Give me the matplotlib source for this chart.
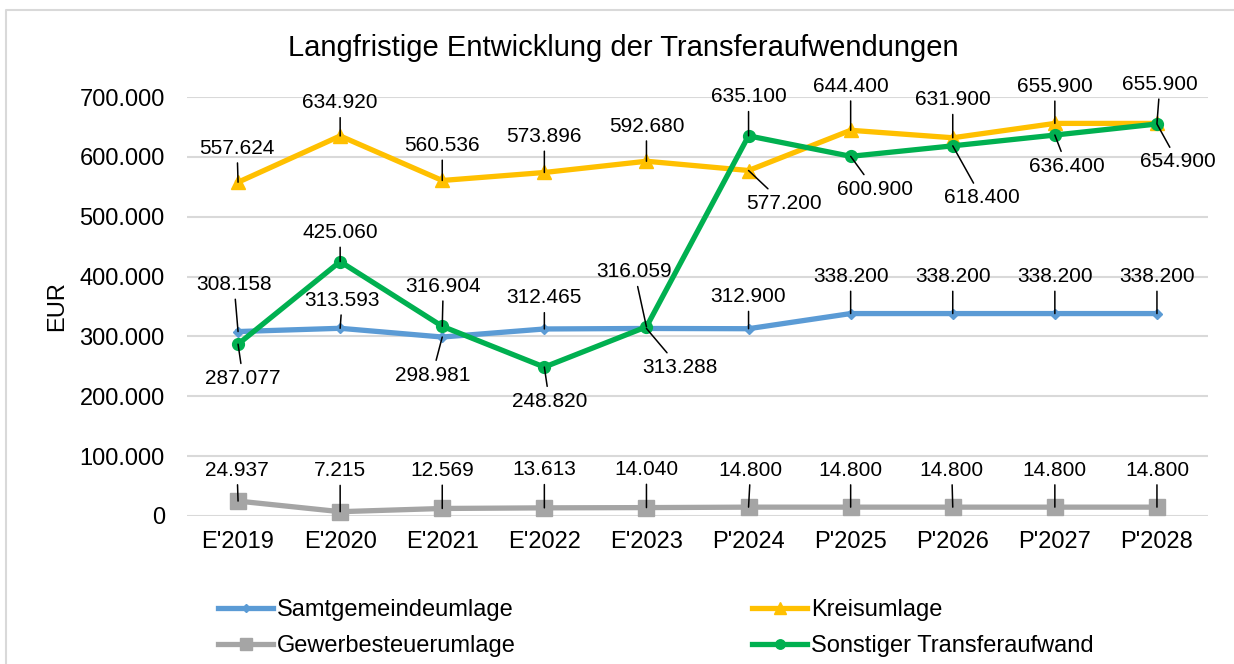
import matplotlib
matplotlib.use("Agg")
import matplotlib.pyplot as plt
from matplotlib.lines import Line2D
from matplotlib.ticker import FuncFormatter

plt.rcParams['font.family'] = ['Liberation Sans', 'DejaVu Sans']

# ---------------- data ----------------
years = ["E'2019", "E'2020", "E'2021", "E'2022", "E'2023",
         "P'2024", "P'2025", "P'2026", "P'2027", "P'2028"]
samtgemeinde = [308158, 313593, 298981, 312465, 313288, 312900, 338200, 338200, 338200, 338200]
kreisumlage = [557624, 634920, 560536, 573896, 592680, 577200, 644400, 631900, 655900, 655900]
gewerbe = [24937, 7215, 12569, 13613, 14040, 14800, 14800, 14800, 14800, 14800]
sonstiger = [287077, 425060, 316904, 248820, 316059, 635100, 600900, 618400, 636400, 654900]
series_names = ["Samtgemeindeumlage", "Kreisumlage", "Gewerbesteuerumlage", "Sonstiger Transferaufwand"]
title = "Langfristige Entwicklung der Transferaufwendungen"

# label offsets (pixels, dx, dy up) - layout only
samt_off = [(-4, 47), (2, 28), (-10, -38), (0, 31), (33, -39), (0, 32), (0, 37), (0, 37), (0, 37), (0, 37)]
kreis_off = [(-1, 34), (0, 33), (0, 35), (0, 36), (0, 35), (35, -33), (0, 44), (0, 38), (0, 37), (3, 39)]
gew_off = [(-1, 31), (0, 41), (0, 38), (0, 38), (0, 38), (2, 37), (0, 37), (-1, 37), (0, 37), (0, 37)]
sonst_off = [(5, -34), (0, 29), (1, 40), (5, -34), (-12, 55), (0, 39), (24, -33), (29, -52), (12, -31), (21, -38)]

W, H = 1234, 664
fig = plt.figure(figsize=(W / 100, H / 100), dpi=100)
fig.patch.set_facecolor('white')

# chart border (left and top visible)
fig.add_artist(Line2D([6 / W, 6 / W, 1.0], [0.0, 1 - 10 / H, 1 - 10 / H],
                      transform=fig.transFigure, color='#D9D9D9', lw=1.5))

ax = fig.add_axes([187 / W, 148 / H, 1021 / W, 419 / H])
x = list(range(len(years)))

styles = [
    (samtgemeinde, '#5B9BD5', 'D', 5.5, samt_off, 2),
    (kreisumlage, '#FFC000', '^', 10, kreis_off, 3),
    (gewerbe, '#A5A5A5', 's', 11, gew_off, 4),
    (sonstiger, '#00B050', 'o', 8.5, sonst_off, 5),
]

handles = []
for (vals, col, mk, ms, offs, z), name in zip(styles, series_names):
    ln, = ax.plot(x, vals, color=col, lw=3.8, marker=mk, ms=ms, mfc=col, mec=col,
                  zorder=z, label=name, solid_joinstyle='round', clip_on=False)
    handles.append(ln)
    for xi, v, (dx, dy) in zip(x, vals, offs):
        lab = f"{v:,}".replace(',', '.')
        ax.annotate(lab, xy=(xi, v), xytext=(dx, dy), textcoords='offset pixels',
                    ha='center', va='center', fontsize=15, color='black',
                    bbox=dict(boxstyle='square,pad=0.25', fc='none', ec='none'),
                    arrowprops=dict(arrowstyle='-', color='black', lw=1.1,
                                    shrinkA=0, shrinkB=0),
                    zorder=10, annotation_clip=False)

ax.set_xlim(-0.5, len(years) - 0.5)
ax.set_ylim(0, 700000)
ax.set_yticks(range(0, 700001, 100000))
ax.yaxis.set_major_formatter(FuncFormatter(lambda v, p: f"{int(v):,}".replace(',', '.')))
ax.set_xticks(x)
ax.set_xticklabels(years)
ax.tick_params(axis='both', length=0, labelsize=17, colors='black')
ax.tick_params(axis='y', pad=16)
ax.tick_params(axis='x', pad=11)
ax.grid(axis='y', color='#D9D9D9', lw=1.5)
ax.set_axisbelow(True)
for s in ax.spines.values():
    s.set_visible(False)

ax.set_ylabel('EUR', fontsize=17, va='center')
ax.yaxis.set_label_coords((57 - 187) / 1021, 0.5)

fig.text(623 / W, 1 - 48 / H, title, ha='center', va='center', fontsize=21)

order = [0, 2, 1, 3]
fig.legend([handles[i] for i in order], [series_names[i] for i in order],
           loc='upper left', bbox_to_anchor=(218 / W, 1 - 599 / H), ncol=2,
           frameon=False, fontsize=17, handlelength=2.33, handletextpad=0.17,
           columnspacing=10.0, labelspacing=0.6, borderpad=0, borderaxespad=0,
           numpoints=1, markerscale=0.8)

fig.savefig('out.png', dpi=100)
